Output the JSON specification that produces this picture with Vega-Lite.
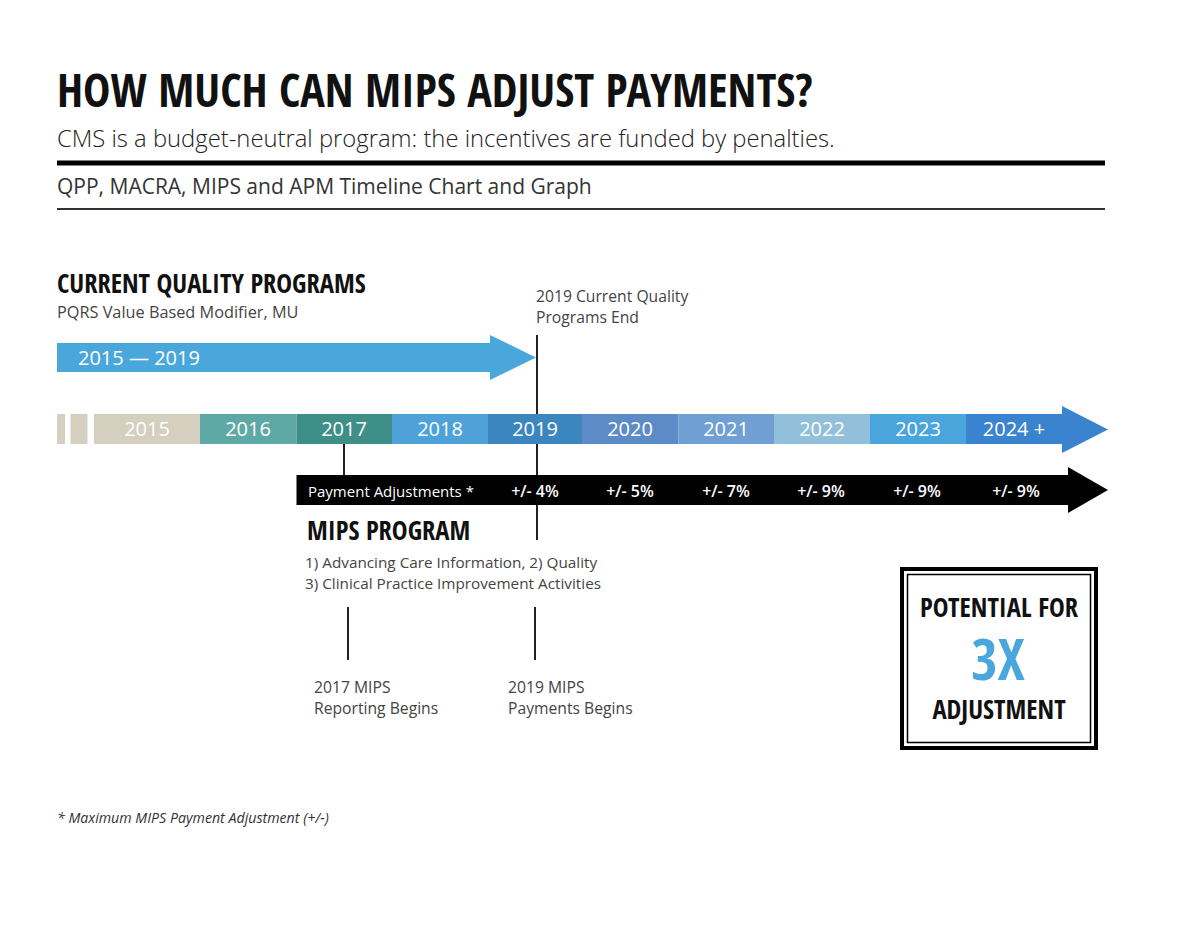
{
  "$schema": "https://vega.github.io/schema/vega-lite/v6.json",
  "width": 1200,
  "height": 927,
  "autosize": {"type": "fit", "contains": "padding"},
  "padding": 0,
  "background": "white",
  "config": {"view": {"stroke": null}},
  "datasets": {
    "title": [{"x": 57, "y": 107, "text": "HOW MUCH CAN MIPS ADJUST PAYMENTS?"}],
    "subtitle": [{"x": 57, "y": 147, "text": "CMS is a budget-neutral program: the incentives are funded by penalties."}],
    "kicker": [{"x": 57, "y": 194, "text": "QPP, MACRA, MIPS and APM Timeline Chart and Graph"}],
    "hrules": [{"x": 57, "x2": 1105, "y": 163, "kind": "thick"}, {"x": 57, "x2": 1105, "y": 209, "kind": "thin"}],
    "headings": [
      {"x": 57, "y": 293, "text": "CURRENT QUALITY PROGRAMS"},
      {"x": 307, "y": 540, "text": "MIPS PROGRAM"}
    ],
    "qpNote": [{"x": 57, "y": 318, "text": "PQRS Value Based Modifier, MU"}],
    "notes": [
      {"x": 536, "y": 302, "text": "2019 Current Quality"},
      {"x": 536, "y": 323, "text": "Programs End"},
      {"x": 314, "y": 693, "text": "2017 MIPS"},
      {"x": 314, "y": 714, "text": "Reporting Begins"},
      {"x": 508, "y": 693, "text": "2019 MIPS"},
      {"x": 508, "y": 714, "text": "Payments Begins"}
    ],
    "mipsNotes": [
      {"x": 305, "y": 568, "text": "1) Advancing Care Information, 2) Quality"},
      {"x": 305, "y": 589, "text": "3) Clinical Practice Improvement Activities"}
    ],
    "vrules": [
      {"x": 537, "y": 335, "y2": 540},
      {"x": 344, "y": 440, "y2": 480},
      {"x": 348, "y": 607, "y2": 660},
      {"x": 535, "y": 607, "y2": 660}
    ],
    "qpBar": [{"x": 57, "x2": 491, "y": 343, "y2": 372, "text": "2015 — 2019", "tx": 78, "ty": 365}],
    "heads": [
      {"arrow": "qp", "x": 490, "y": 335, "y2": 380},
      {"arrow": "qp", "x": 536, "y": 357.5, "y2": 357.5},
      {"arrow": "years", "x": 1062, "y": 406, "y2": 453},
      {"arrow": "years", "x": 1108, "y": 429.5, "y2": 429.5},
      {"arrow": "pay", "x": 1068, "y": 467, "y2": 513},
      {"arrow": "pay", "x": 1108, "y": 490, "y2": 490}
    ],
    "tiles": [
      {"x": 57, "x2": 65, "y": 414, "y2": 444},
      {"x": 70.5, "x2": 87.5, "y": 414, "y2": 444}
    ],
    "years": [
      {"year": "2015", "x": 94, "x2": 200, "cx": 147, "y": 414, "y2": 444, "ty": 436},
      {"year": "2016", "x": 200, "x2": 296.5, "cx": 248, "y": 414, "y2": 444, "ty": 436},
      {"year": "2017", "x": 296.5, "x2": 392, "cx": 344, "y": 414, "y2": 444, "ty": 436},
      {"year": "2018", "x": 392, "x2": 488, "cx": 440, "y": 414, "y2": 444, "ty": 436},
      {"year": "2019", "x": 488, "x2": 582, "cx": 535, "y": 414, "y2": 444, "ty": 436},
      {"year": "2020", "x": 582, "x2": 678.5, "cx": 630, "y": 414, "y2": 444, "ty": 436},
      {"year": "2021", "x": 678.5, "x2": 774, "cx": 726, "y": 414, "y2": 444, "ty": 436},
      {"year": "2022", "x": 774, "x2": 870, "cx": 822, "y": 414, "y2": 444, "ty": 436},
      {"year": "2023", "x": 870, "x2": 966, "cx": 918, "y": 414, "y2": 444, "ty": 436},
      {"year": "2024 +", "x": 966, "x2": 1063, "cx": 1014, "y": 414, "y2": 444, "ty": 436}
    ],
    "payBar": [{"x": 296.5, "x2": 1070, "y": 475, "y2": 505, "text": "Payment Adjustments *", "tx": 308, "ty": 497}],
    "pay": [
      {"year": "2019", "x": 535, "y": 497, "text": "+/- 4%"},
      {"year": "2020", "x": 630, "y": 497, "text": "+/- 5%"},
      {"year": "2021", "x": 726, "y": 497, "text": "+/- 7%"},
      {"year": "2022", "x": 821, "y": 497, "text": "+/- 9%"},
      {"year": "2023", "x": 917, "y": 497, "text": "+/- 9%"},
      {"year": "2024", "x": 1016, "y": 497, "text": "+/- 9%"}
    ],
    "box": [
      {"part": "outer", "x": 902, "x2": 1096, "y": 569, "y2": 748},
      {"part": "inner", "x": 907.5, "x2": 1090.5, "y": 574.5, "y2": 742.5}
    ],
    "boxText": [
      {"x": 999, "y": 617, "text": "POTENTIAL FOR"},
      {"x": 999, "y": 719, "text": "ADJUSTMENT"}
    ],
    "boxBig": [{"x": 998, "y": 680, "text": "3X"}],
    "foot": [{"x": 57, "y": 823, "text": "* Maximum MIPS Payment Adjustment (+/-)"}]
  },
  "encoding": {
    "x": {"field": "x", "type": "quantitative", "scale": {"domain": [0, 1200], "nice": false, "zero": false}, "axis": null},
    "y": {"field": "y", "type": "quantitative", "scale": {"domain": [0, 927], "nice": false, "zero": false, "reverse": true}, "axis": null}
  },
  "layer": [
    {
      "data": {"name": "title"},
      "mark": {"type": "text", "align": "left", "baseline": "alphabetic", "font": "Open Sans Condensed, sans-serif", "fontWeight": "bold", "fontSize": 46, "color": "#111111"},
      "encoding": {"text": {"field": "text", "type": "nominal"}}
    },
    {
      "data": {"name": "subtitle"},
      "mark": {"type": "text", "align": "left", "baseline": "alphabetic", "font": "Open Sans", "fontWeight": 300, "fontSize": 23.8, "color": "#222222"},
      "encoding": {"text": {"field": "text", "type": "nominal"}}
    },
    {
      "data": {"name": "kicker"},
      "mark": {"type": "text", "align": "left", "baseline": "alphabetic", "font": "Open Sans", "fontSize": 21, "color": "#333333"},
      "encoding": {"text": {"field": "text", "type": "nominal"}}
    },
    {
      "data": {"name": "hrules"},
      "transform": [{"filter": "datum.kind === 'thick'"}],
      "mark": {"type": "rule", "strokeWidth": 5, "color": "#000000"},
      "encoding": {"x2": {"field": "x2"}}
    },
    {
      "data": {"name": "hrules"},
      "transform": [{"filter": "datum.kind === 'thin'"}],
      "mark": {"type": "rule", "strokeWidth": 2, "color": "#333333"},
      "encoding": {"x2": {"field": "x2"}}
    },
    {
      "data": {"name": "headings"},
      "mark": {"type": "text", "align": "left", "baseline": "alphabetic", "font": "Open Sans Condensed, sans-serif", "fontWeight": "bold", "fontSize": 26.5, "color": "#111111"},
      "encoding": {"text": {"field": "text", "type": "nominal"}}
    },
    {
      "data": {"name": "qpNote"},
      "mark": {"type": "text", "align": "left", "baseline": "alphabetic", "font": "Open Sans", "fontSize": 16.3, "color": "#444444"},
      "encoding": {"text": {"field": "text", "type": "nominal"}}
    },
    {
      "data": {"name": "notes"},
      "mark": {"type": "text", "align": "left", "baseline": "alphabetic", "font": "Open Sans", "fontSize": 15.7, "color": "#444444"},
      "encoding": {"text": {"field": "text", "type": "nominal"}}
    },
    {
      "data": {"name": "mipsNotes"},
      "mark": {"type": "text", "align": "left", "baseline": "alphabetic", "font": "Open Sans", "fontSize": 15.3, "color": "#444444"},
      "encoding": {"text": {"field": "text", "type": "nominal"}}
    },
    {
      "data": {"name": "vrules"},
      "mark": {"type": "rule", "strokeWidth": 2, "color": "#222222"},
      "encoding": {"y2": {"field": "y2"}}
    },
    {
      "data": {"name": "qpBar"},
      "mark": {"type": "rect", "color": "#4aa7dc"},
      "encoding": {"x2": {"field": "x2"}, "y2": {"field": "y2"}}
    },
    {
      "data": {"name": "heads"},
      "transform": [{"filter": "datum.arrow === 'qp'"}],
      "mark": {"type": "area", "color": "#4aa7dc", "opacity": 1},
      "encoding": {"y2": {"field": "y2"}}
    },
    {
      "data": {"name": "qpBar"},
      "mark": {"type": "text", "align": "left", "baseline": "alphabetic", "font": "Open Sans", "fontSize": 20, "color": "#ffffff"},
      "encoding": {"x": {"field": "tx", "type": "quantitative"}, "y": {"field": "ty", "type": "quantitative"}, "text": {"field": "text", "type": "nominal"}}
    },
    {
      "data": {"name": "tiles"},
      "mark": {"type": "rect", "color": "#d4cfbf"},
      "encoding": {"x2": {"field": "x2"}, "y2": {"field": "y2"}}
    },
    {
      "data": {"name": "years"},
      "mark": {"type": "rect"},
      "encoding": {
        "x2": {"field": "x2"},
        "y2": {"field": "y2"},
        "color": {
          "field": "year",
          "type": "nominal",
          "legend": null,
          "scale": {
            "domain": ["2015", "2016", "2017", "2018", "2019", "2020", "2021", "2022", "2023", "2024 +"],
            "range": ["#d4cfbf", "#5ea9a5", "#3e8f87", "#4fa2d8", "#3c86c0", "#5d8bc7", "#709fd4", "#92bfda", "#4aa5dd", "#3a83cf"]
          }
        }
      }
    },
    {
      "data": {"name": "heads"},
      "transform": [{"filter": "datum.arrow === 'years'"}],
      "mark": {"type": "area", "color": "#3a83cf", "opacity": 1},
      "encoding": {"y2": {"field": "y2"}}
    },
    {
      "data": {"name": "years"},
      "mark": {"type": "text", "align": "center", "baseline": "alphabetic", "font": "Open Sans", "fontSize": 20, "color": "#ffffff"},
      "encoding": {"x": {"field": "cx", "type": "quantitative"}, "y": {"field": "ty", "type": "quantitative"}, "text": {"field": "year", "type": "nominal"}}
    },
    {
      "data": {"name": "payBar"},
      "mark": {"type": "rect", "color": "#000000"},
      "encoding": {"x2": {"field": "x2"}, "y2": {"field": "y2"}}
    },
    {
      "data": {"name": "heads"},
      "transform": [{"filter": "datum.arrow === 'pay'"}],
      "mark": {"type": "area", "color": "#000000", "opacity": 1},
      "encoding": {"y2": {"field": "y2"}}
    },
    {
      "data": {"name": "payBar"},
      "mark": {"type": "text", "align": "left", "baseline": "alphabetic", "font": "Open Sans", "fontSize": 15, "color": "#ffffff"},
      "encoding": {"x": {"field": "tx", "type": "quantitative"}, "y": {"field": "ty", "type": "quantitative"}, "text": {"field": "text", "type": "nominal"}}
    },
    {
      "data": {"name": "pay"},
      "mark": {"type": "text", "align": "center", "baseline": "alphabetic", "font": "Open Sans", "fontSize": 16, "fontWeight": 600, "color": "#ffffff"},
      "encoding": {"text": {"field": "text", "type": "nominal"}}
    },
    {
      "data": {"name": "box"},
      "transform": [{"filter": "datum.part === 'outer'"}],
      "mark": {"type": "rect", "fill": "#ffffff", "stroke": "#000000", "strokeWidth": 4},
      "encoding": {"x2": {"field": "x2"}, "y2": {"field": "y2"}}
    },
    {
      "data": {"name": "box"},
      "transform": [{"filter": "datum.part === 'inner'"}],
      "mark": {"type": "rect", "fill": null, "fillOpacity": 0, "stroke": "#000000", "strokeWidth": 1.5},
      "encoding": {"x2": {"field": "x2"}, "y2": {"field": "y2"}}
    },
    {
      "data": {"name": "boxText"},
      "mark": {"type": "text", "align": "center", "baseline": "alphabetic", "font": "Open Sans Condensed, sans-serif", "fontWeight": "bold", "fontSize": 26.5, "color": "#111111"},
      "encoding": {"text": {"field": "text", "type": "nominal"}}
    },
    {
      "data": {"name": "boxBig"},
      "mark": {"type": "text", "align": "center", "baseline": "alphabetic", "font": "Open Sans Condensed, sans-serif", "fontWeight": "bold", "fontSize": 57, "color": "#4aa7dc"},
      "encoding": {"text": {"field": "text", "type": "nominal"}}
    },
    {
      "data": {"name": "foot"},
      "mark": {"type": "text", "align": "left", "baseline": "alphabetic", "font": "Open Sans", "fontStyle": "italic", "fontSize": 14.2, "color": "#333333"},
      "encoding": {"text": {"field": "text", "type": "nominal"}}
    }
  ]
}
